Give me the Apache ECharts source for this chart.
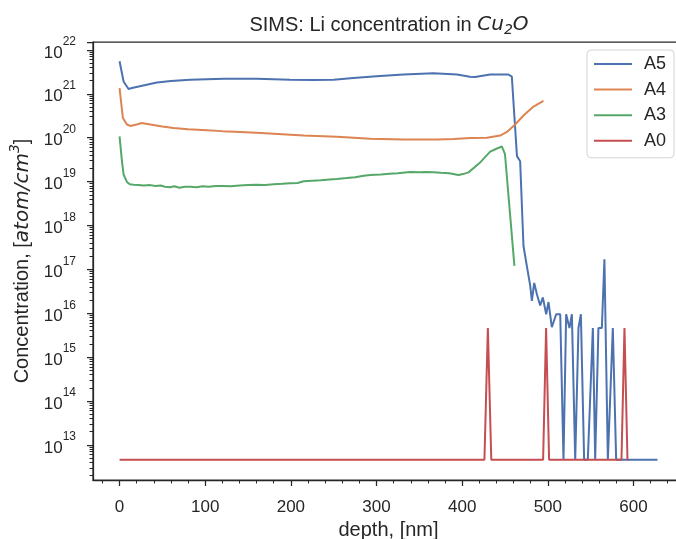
<!DOCTYPE html>
<html>
<head>
<meta charset="utf-8">
<script src="https://cdn.jsdelivr.net/npm/echarts@6/dist/echarts.min.js"></script>
<style>
html,body{margin:0;padding:0;background:#fff;}
#main{width:676px;height:539px;}
</style>
</head>
<body>
<div id="main"></div>
<script>
var seriesNames = ['A5', 'A4', 'A3', 'A0'];
var seriesColors = ['#4C72B0', '#DD8452', '#55A868', '#C44E52'];

// A5
var a5Depth = [0, 4.7, 10.5, 14.5, 25, 43.6, 60, 82.5, 121.7, 160, 199, 226, 250, 273, 300, 331.5, 366.5, 394, 409, 415, 432.7, 454, 458,
    464, 467.7, 471.6, 475.5, 479.4, 481.4, 484.1, 487.5, 491.1, 494.2, 498.1, 500.8, 504.7, 509.8, 514.5, 518.3, 521.4, 525.3, 528.1,
    532, 535.8, 538.6, 542.4, 546.7, 552.6, 555.3, 559.1, 563.1, 566.1, 570.1, 575.9, 579.8, 628];
var a5Conc = [5.5e21, 1.9e21, 1.29e21, 1.35e21, 1.5e21, 1.8e21, 1.95e21, 2.1e21, 2.2e21, 2.2e21, 2.1e21, 2.05e21, 2.1e21, 2.3e21, 2.5e21, 2.75e21, 2.95e21, 2.75e21, 2.45e21, 2.4e21, 2.75e21, 2.75e21, 2.45e21,
    3.8e19, 2.9e19, 3.4e17, 1.2e17, 4.3e16, 1.9e16, 4.9e16, 2.6e16, 1.5e16, 2.3e16, 9.5e15, 1.8e16, 4.8e15, 9.5e15, 9.5e15, 4.6e12, 9.5e15, 4.6e15, 9.5e15,
    4.6e12, 4.6e15, 9.5e15, 4.6e12, 4.6e12, 4.6e15, 4.6e12, 4.6e15, 4.6e15, 1.7e17, 4.6e12, 4.6e15, 4.6e12, 4.6e12];

// A4
var a4Depth = [0, 3.9, 8.6, 12.5, 20, 26, 35.8, 50, 63, 80, 102, 120, 141, 160, 180, 199.6, 214.8, 253.8, 292.6, 331.5, 370.5, 390, 409.4, 428.9, 444.4, 452.2, 461.9, 471.6, 483.3, 494.9];
var a4Conc = [1.35e21, 2.8e20, 2.0e20, 1.85e20, 2.0e20, 2.15e20, 2.0e20, 1.8e20, 1.66e20, 1.55e20, 1.48e20, 1.41e20, 1.35e20, 1.29e20, 1.23e20, 1.17e20, 1.12e20, 1.05e20, 9.5e19, 9.1e19, 9.1e19, 9.3e19, 9.8e19, 1.0e20, 1.12e20, 1.35e20, 2.0e20, 3.2e20, 5.1e20, 6.9e20];

// A3
var a3Depth = [0, 2.8, 4.7, 8.6, 12, 16.3, 22, 28, 35.8, 42, 48, 53, 59, 64, 70, 76, 82.5, 90, 97, 104, 112, 121, 130, 140, 150, 160, 170, 180, 190, 199, 208, 214.8,
    225, 235, 245, 253.8, 265, 275, 285, 292.6, 305, 315, 325, 339, 350, 358, 366.5, 375, 385, 395.7, 401, 407.4, 420, 432.7, 440, 446.3, 450, 461];
var a3Conc = [1.07e20, 2.9e19, 1.45e19, 9.8e18, 8.7e18, 8.5e18, 8.3e18, 8.1e18, 8.3e18, 7.9e18, 8.1e18, 7.6e18, 7.4e18, 7.8e18, 7.2e18, 7.6e18, 7.6e18, 7.4e18, 7.8e18, 7.6e18, 7.9e18, 7.9e18, 7.8e18, 8.1e18, 8.3e18, 8.5e18, 8.3e18, 8.7e18, 8.9e18, 9.1e18, 9.3e18, 1.02e19,
    1.05e19, 1.07e19, 1.12e19, 1.15e19, 1.2e19, 1.26e19, 1.35e19, 1.41e19, 1.45e19, 1.51e19, 1.55e19, 1.66e19, 1.62e19, 1.66e19, 1.62e19, 1.58e19, 1.55e19, 1.41e19, 1.48e19, 1.62e19, 2.6e19, 4.8e19, 5.6e19, 6.3e19, 4.2e19, 1.2e17];

// A0
var a0Depth = [0, 426, 430, 434, 494.5, 498, 501.5, 586, 589.5, 593, 594];
var a0Conc = [4.6e12, 4.6e12, 4.6e15, 4.6e12, 4.6e12, 4.6e15, 4.6e12, 4.6e12, 4.6e15, 4.6e12, 4.6e12];

var xTickValues = [0, 100, 200, 300, 400, 500, 600];
var xRange = [-31, 659];
var yLogRange = [12.2, 22.18];

var axisColor = '#262626';
var fontName = 'Liberation Sans';
var mathFont = 'DejaVu Sans';

function pairs(xs, ys) {
    var out = [];
    for (var i = 0; i < xs.length; i++) {
        out.push([xs[i], ys[i]]);
    }
    return out;
}

//小刻度
var xMinorTicks = [];
for (var v = -20; v <= 640; v += 20) {
    if (v % 100 !== 0) xMinorTicks.push(v);
}
var yMinorTicks = [];
for (var n = 12; n <= 22; n++) {
    for (var k = 2; k <= 9; k++) {
        var lv = n + Math.log10(k);
        if (lv > yLogRange[0] && lv < yLogRange[1]) yMinorTicks.push(lv);
    }
}

var allDepth = [a5Depth, a4Depth, a3Depth, a0Depth];
var allConc = [a5Conc, a4Conc, a3Conc, a0Conc];
var series = [];
for (var s = 0; s < seriesNames.length; s++) {
    series.push({
        name: seriesNames[s],
        type: 'line',
        xAxisIndex: 0,
        yAxisIndex: 0,
        symbol: 'none',
        smooth: false,
        color: seriesColors[s],
        lineStyle: {width: 2, color: seriesColors[s]},
        data: pairs(allDepth[s], allConc[s])
    });
}

var myChart = echarts.init(document.getElementById('main'));
var option = {
    animation: false,
    backgroundColor: '#ffffff',
    title: {
        text: '{n|SIMS: Li concentration in }{i|Cu}{sub|2}{i|O}',
        left: 384,
        top: 8,
        textAlign: 'center',
        textStyle: {
            fontWeight: 'normal',
            rich: {
                n: {fontFamily: fontName, fontWeight: 'normal', fontSize: 20, color: axisColor},
                i: {fontFamily: mathFont, fontWeight: 'normal', fontStyle: 'italic', fontSize: 20, color: axisColor},
                sub: {fontFamily: mathFont, fontWeight: 'normal', fontStyle: 'italic', fontSize: 14, color: axisColor, padding: [10, 0, 0, 0]}
            }
        }
    },
    legend: {
        data: seriesNames,
        orient: 'vertical',
        left: 587,
        top: 50,
        itemWidth: 38,
        itemHeight: 18,
        itemGap: 7.6,
        padding: [5, 8, 8, 6],
        borderColor: '#d4d4d4',
        borderWidth: 1,
        borderRadius: 4,
        backgroundColor: 'rgba(255,255,255,0.8)',
        itemStyle: {opacity: 0},
        textStyle: {fontFamily: fontName, fontSize: 18, color: axisColor, padding: [0, 0, 0, 7]}
    },
    grid: {
        left: 93,
        top: 42,
        width: 591,
        height: 438,
        outerBoundsMode: 'none',
        show: true,
        borderColor: axisColor,
        borderWidth: 1.25,
        backgroundColor: 'transparent',
        containLabel: false
    },
    xAxis: [{
        type: 'value',
        min: xRange[0],
        max: xRange[1],
        position: 'bottom',
        axisLine: {show: true, onZero: false, lineStyle: {color: axisColor, width: 1.25}},
        axisTick: {show: true, customValues: xTickValues, length: 6, lineStyle: {color: axisColor, width: 1.25}},
        axisLabel: {customValues: xTickValues, color: axisColor, fontFamily: fontName, fontSize: 17, margin: 19},
        splitLine: {show: false},
        name: 'depth, [nm]',
        nameLocation: 'middle',
        nameGap: 38,
        nameTextStyle: {fontFamily: fontName, fontSize: 20, color: axisColor}
    }, {
        type: 'value',
        min: xRange[0],
        max: xRange[1],
        position: 'bottom',
        axisLine: {show: false, onZero: false},
        axisLabel: {show: false},
        splitLine: {show: false},
        axisTick: {show: true, customValues: xMinorTicks, length: 3.5, lineStyle: {color: axisColor, width: 1}}
    }],
    yAxis: [{
        type: 'log',
        logBase: 10,
        min: Math.pow(10, yLogRange[0]),
        max: Math.pow(10, yLogRange[1]),
        position: 'left',
        axisLine: {show: true, onZero: false, lineStyle: {color: axisColor, width: 1.25}},
        axisTick: {show: true, length: 6, lineStyle: {color: axisColor, width: 1.25}},
        minorTick: {show: false},
        splitLine: {show: false},
        axisLabel: {
            showMinLabel: false,
            margin: 17,
            formatter: function (value) {
                var lg = Math.log10(value);
                var e = Math.round(lg);
                if (Math.abs(lg - e) > 1e-6) return '';
                return '{b|10}{e|' + e + '}';
            },
            rich: {
                b: {fontFamily: fontName, fontSize: 17, color: axisColor, padding: [6, 0, 0, 0]},
                e: {fontFamily: fontName, fontSize: 12, color: axisColor, padding: [0, 0, 16, 0]}
            }
        },
        name: '{n|Concentration, [}{i|atom/cm}{s|3}{n|]}',
        nameLocation: 'middle',
        nameRotate: 90,
        nameGap: 56,
        nameTextStyle: {
            rich: {
                n: {fontFamily: fontName, fontSize: 20, color: axisColor},
                i: {fontFamily: mathFont, fontStyle: 'italic', fontSize: 20, color: axisColor},
                s: {fontFamily: mathFont, fontStyle: 'italic', fontSize: 14, color: axisColor, padding: [0, 0, 14, 0]}
            }
        }
    }, {
        type: 'value',
        min: yLogRange[0],
        max: yLogRange[1],
        position: 'left',
        axisLine: {show: false, onZero: false},
        axisLabel: {show: false},
        splitLine: {show: false},
        axisTick: {show: true, customValues: yMinorTicks, length: 3.5, lineStyle: {color: axisColor, width: 1}}
    }],
    series: series
};
myChart.setOption(option);
</script>
</body>
</html>
